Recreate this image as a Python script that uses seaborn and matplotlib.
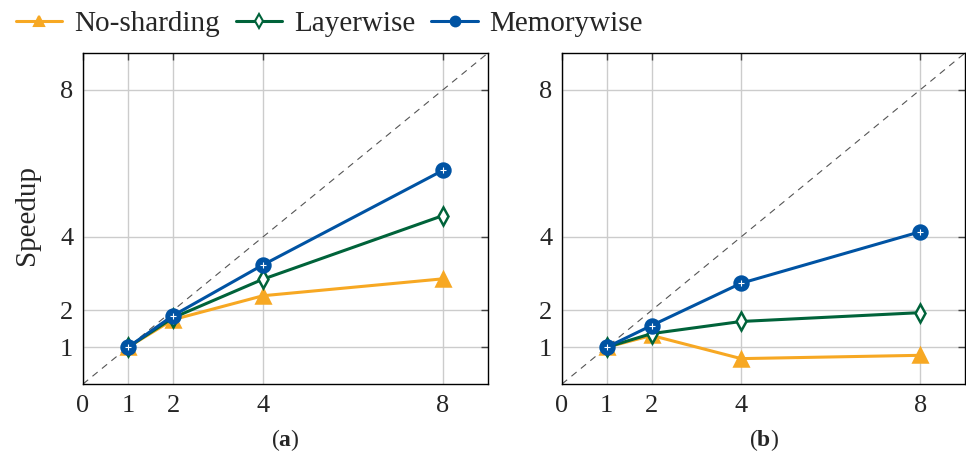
import matplotlib
matplotlib.use("Agg")
import matplotlib.pyplot as plt
from matplotlib.lines import Line2D
import seaborn as sns
import pandas as pd

# ---- data ----
gpus = [1, 2, 4, 8]
series_names = ["No-sharding", "Layerwise", "Memorywise"]
a_nosharding = [1.0, 1.75, 2.40, 2.86]
a_layerwise = [1.0, 1.80, 2.85, 4.58]
a_memorywise = [1.0, 1.86, 3.24, 5.81]
b_nosharding = [1.0, 1.32, 0.69, 0.78]
b_layerwise = [1.0, 1.37, 1.70, 1.94]
b_memorywise = [1.0, 1.59, 2.74, 4.14]
ticks = [0, 1, 2, 4, 8]
yticks = [1, 2, 4, 8]
panel_labels = ["a", "b"]
ylabel = "Speedup"

colors = {"No-sharding": "#F7A823", "Layerwise": "#00633A", "Memorywise": "#0053A3"}
markers = {"No-sharding": "^", "Layerwise": "d", "Memorywise": "o"}
faces = {"No-sharding": "#F7A823", "Layerwise": "white", "Memorywise": "#0053A3"}

def frame(ns, lw, mw):
    rows = []
    for name, vals in zip(series_names, [ns, lw, mw]):
        for g, v in zip(gpus, vals):
            rows.append({"GPUs": g, "Speedup": v, "Method": name})
    return pd.DataFrame(rows)

dfs = [frame(a_nosharding, a_layerwise, a_memorywise),
       frame(b_nosharding, b_layerwise, b_memorywise)]

sns.set_theme(style="white")
plt.rcParams["font.family"] = ["Liberation Serif", "DejaVu Serif"]
plt.rcParams["mathtext.fontset"] = "custom"
plt.rcParams["mathtext.rm"] = "Liberation Serif"
plt.rcParams["mathtext.bf"] = "Liberation Serif:bold"

fig = plt.figure(figsize=(9.66, 4.66), dpi=100)
ax_pos = [[83/966, 1-384/466, (488-83)/966, (384-53)/466],
          [562/966, 1-384/466, (965-562)/966, (384-53)/466]]

for i, df in enumerate(dfs):
    ax = fig.add_axes(ax_pos[i])
    ax.set_xlim(0, 9)
    ax.set_ylim(0, 9)
    ax.set_xticks(ticks)
    ax.set_yticks(yticks)
    ax.grid(True, color="#cccccc", linewidth=1.0)
    ax.axline((0, 0), slope=1, color="#555555", linewidth=0.8, dashes=(6, 5), zorder=1.5)
    for name in series_names:
        sub = df[df["Method"] == name]
        sns.lineplot(data=sub, x="GPUs", y="Speedup", ax=ax, color=colors[name],
                     linewidth=2.2, marker=markers[name], markersize=10 if name != "Layerwise" else 9,
                     markerfacecolor=faces[name], markeredgecolor=colors[name],
                     markeredgewidth=1.8, legend=False, zorder=3)
        if name == "Memorywise":
            ax.plot(sub["GPUs"], sub["Speedup"], linestyle="none", marker="+",
                    color="white", markersize=4, markeredgewidth=0.8, zorder=4)
    ax.set_xlabel("")
    ax.set_ylabel(ylabel if i == 0 else "", fontsize=21)
    ax.tick_params(axis="both", direction="in", length=5, width=1, color="#444444",
                   labelsize=19, top=True, right=True, pad=7)
    ax.tick_params(axis="x", pad=8)
    for s in ax.spines.values():
        s.set_color("black")
        s.set_linewidth(1.0)
    cx = ax_pos[i][0] + ax_pos[i][2] / 2
    fig.text(cx, 1 - 440/466, r"($\mathbf{" + panel_labels[i] + r"}$)", ha="center", va="center", fontsize=17)

fig.axes[0].yaxis.set_label_coords(-0.105, 0.51)

handles = []
for name in series_names:
    handles.append(Line2D([0], [0], color=colors[name], linewidth=2.2, marker=markers[name],
                          markersize=7, markerfacecolor=faces[name] if name != "Memorywise" else colors[name],
                          markeredgecolor=colors[name], markeredgewidth=1.5))
fig.legend(handles, series_names, loc="upper left", bbox_to_anchor=(-0.011, 1.033), ncol=3,
           frameon=False, fontsize=21, handlelength=1.6, handletextpad=0.4, columnspacing=0.55)

fig.savefig("out.png", dpi=100)
